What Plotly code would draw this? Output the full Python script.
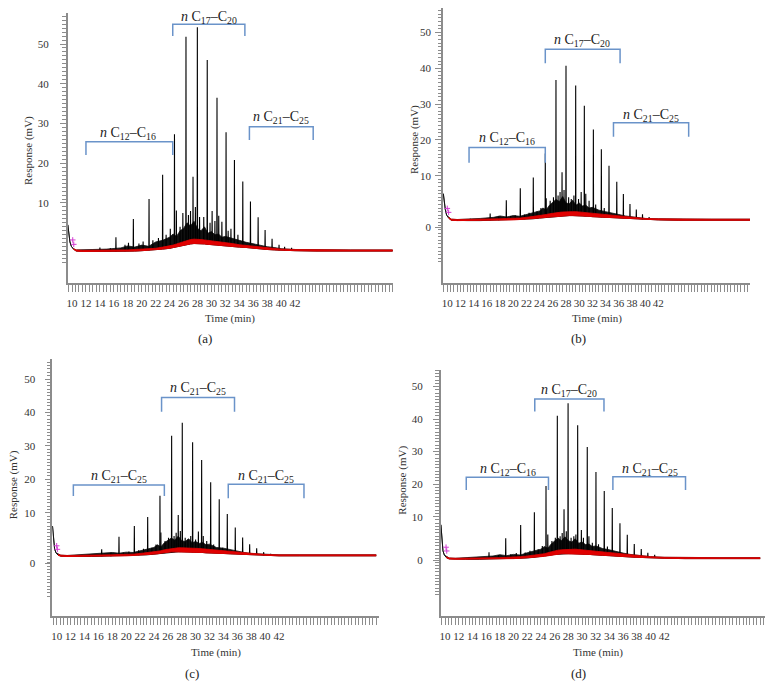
import numpy as np
import plotly.graph_objects as go

# ---------------- data ----------------
# common time grid (min) for baseline / red band / unresolved "grass" envelope
T = [9.4, 9.55, 9.7, 9.9, 10.2, 10.6, 11.5, 13, 15, 17, 18, 19, 20, 21, 22, 23, 24, 24.5, 25, 25.5,
     26, 26.5, 27, 27.5, 28, 28.5, 29, 29.5, 30, 30.5, 31, 31.5, 32, 33, 34, 35, 36, 37, 38, 39,
     40, 42, 45, 50, 56]

# panel (a)
A_BASE = [4.5, 2.0, 0.2, -0.9, -1.6, -2.1, -2.2, -2.2, -2.2, -2.2, -2.1, -2.1, -2.0, -1.9, -1.8, -1.6, -1.4, -1.2, -1.0, -0.8,
          -0.6, -0.4, -0.3, -0.2, -0.2, -0.3, -0.3, -0.4, -0.5, -0.5, -0.6, -0.7, -0.8, -0.9, -1.1, -1.2, -1.4, -1.5, -1.7, -1.8,
          -1.9, -2.0, -2.1, -2.1, -2.1]
A_RED = [4.5, 2.0, 0.2, -0.9, -1.5, -1.8, -1.9, -1.9, -1.9, -1.9, -1.8, -1.7, -1.6, -1.5, -1.4, -1.1, -0.8, -0.6, -0.3, 0.0,
         0.3, 0.6, 0.8, 0.9, 0.9, 0.8, 0.7, 0.6, 0.5, 0.4, 0.3, 0.2, 0.1, -0.2, -0.5, -0.7, -0.9, -1.1, -1.3, -1.5,
         -1.6, -1.7, -1.8, -1.8, -1.8]
A_GRASS = [4.5, 2.0, 0.2, -0.9, -1.5, -1.8, -1.8, -1.7, -1.6, -1.3, -0.8, -1.1, -0.6, -0.9, 0.2, 0.6, 1.4, 2.2, 1.6, 3.0,
           3.6, 5.0, 4.2, 5.4, 3.6, 3.0, 4.0, 2.4, 2.8, 2.0, 2.2, 1.4, 1.6, 1.0, 0.6, 0.1, -0.3, -0.7, -1.0, -1.2,
           -1.5, -1.7, -1.8, -1.8, -1.8]
A_PEAK_T = [14.0, 15.5, 16.3, 17.6, 18.1, 18.8, 19.6, 20.2, 21.05, 21.6, 22.4, 23.0, 23.5, 24.1, 24.7, 24.97, 25.5, 25.9,
            26.35, 26.7, 27.0, 27.36, 27.7, 27.98, 28.3, 28.9, 29.4, 29.8, 30.1, 30.5, 30.8, 31.05, 31.5, 32.1, 32.4,
            32.8, 33.3, 33.8, 34.5, 35.6, 36.7, 37.7, 38.7, 39.7, 40.5, 41.5]
A_PEAK_H = [-1.2, -1.4, 1.4, -0.5, 0.0, 6.0, -0.2, 0.3, 11.0, 0.6, 1.2, 17.1, 2.0, 3.5, 27.3, 8.1, 4.0, 7.5,
            51.8, 7.0, 8.0, 16.6, 9.0, 54.2, 6.5, 6.5, 46.0, 5.0, 8.0, 5.5, 36.5, 6.8, 5.3, 27.8, 3.0,
            3.5, 20.8, 2.0, 15.4, 10.4, 6.4, 3.2, 1.0, -0.5, -1.0, -1.3]
A_CROSS_T = [10.1, 10.25]
A_CROSS_V = [0.7, -0.4]

# panel (b)
B_BASE = [5.0, 2.5, 0.6, -1.0, -1.8, -2.4, -2.5, -2.5, -2.5, -2.4, -2.4, -2.3, -2.3, -2.2, -2.1, -2.0, -1.8, -1.7, -1.6, -1.5,
          -1.4, -1.3, -1.2, -1.2, -1.1, -1.1, -1.1, -1.1, -1.2, -1.2, -1.3, -1.3, -1.4, -1.5, -1.6, -1.7, -1.8, -1.9, -2.0, -2.1,
          -2.2, -2.3, -2.4, -2.4, -2.4]
B_RED = [5.0, 2.5, 0.6, -1.0, -1.6, -2.1, -2.2, -2.2, -2.2, -2.1, -2.0, -1.9, -1.9, -1.8, -1.6, -1.4, -1.2, -1.0, -0.8, -0.6,
         -0.4, -0.3, -0.2, -0.1, 0.0, 0.0, 0.0, 0.0, -0.1, -0.1, -0.2, -0.3, -0.4, -0.6, -0.8, -1.0, -1.2, -1.5, -1.7, -1.8,
         -1.9, -2.0, -2.1, -2.1, -2.1]
B_GRASS = [5.0, 2.5, 0.6, -1.0, -1.6, -2.1, -2.2, -2.1, -1.9, -1.6, -1.2, -1.5, -1.1, -1.3, -0.8, -0.4, 0.2, 1.0, 0.5, 1.8,
           2.6, 3.4, 2.8, 4.2, 2.4, 2.2, 3.2, 1.8, 2.4, 1.6, 1.8, 1.0, 1.2, 0.4, 0.0, -0.5, -0.8, -1.2, -1.5, -1.7,
           -1.9, -2.0, -2.1, -2.1, -2.1]
B_PEAK_T = [13.5, 16.5, 17.8, 18.95, 19.6, 20.3, 21.07, 21.7, 22.4, 23.04, 23.6, 24.2, 24.86, 25.0, 25.6, 26.1,
            26.48, 26.8, 27.1, 27.4, 27.7, 28.0, 28.4, 28.8, 29.2, 29.47, 29.9, 30.3, 30.78, 31.0, 31.5, 32.15,
            32.5, 33.36, 33.8, 34.52, 35.7, 36.7, 37.7, 38.66, 39.6, 40.6]
B_PEAK_H = [-2.0, -0.5, -1.3, 3.2, -1.2, -1.0, 6.5, -0.8, -0.3, 9.5, 0.0, 1.0, 16.2, 3.7, 3.0, 4.0,
            36.7, 4.5, 5.5, 11.0, 6.0, 40.7, 4.0, 3.5, 4.5, 35.2, 3.5, 5.5, 29.5, 5.0, 3.0, 22.9,
            2.0, 17.4, 1.0, 12.8, 8.3, 4.9, 2.1, 0.6, -0.7, -1.5]
B_CROSS_T = [10.0, 10.2]
B_CROSS_V = [0.9, -0.2]

# panel (c)
C_BASE = [6.0, 1.5, -0.8, -2.0, -2.7, -3.0, -3.1, -3.1, -3.1, -3.0, -3.0, -2.9, -2.9, -2.8, -2.7, -2.6, -2.4, -2.3, -2.1, -1.9,
          -1.8, -1.7, -1.7, -1.7, -1.7, -1.7, -1.7, -1.8, -1.8, -1.9, -1.9, -2.0, -2.0, -2.1, -2.2, -2.3, -2.4, -2.5, -2.6, -2.7,
          -2.8, -2.9, -2.9, -2.9, -2.9]
C_RED = [6.0, 1.5, -0.8, -2.0, -2.4, -2.7, -2.8, -2.8, -2.8, -2.7, -2.6, -2.5, -2.5, -2.4, -2.2, -2.0, -1.8, -1.6, -1.4, -1.1,
         -0.9, -0.7, -0.6, -0.5, -0.5, -0.5, -0.5, -0.6, -0.6, -0.7, -0.8, -0.9, -1.0, -1.2, -1.4, -1.6, -1.8, -2.1, -2.3, -2.4,
         -2.5, -2.6, -2.6, -2.6, -2.6]
C_GRASS = [6.0, 1.5, -0.8, -2.0, -2.4, -2.7, -2.8, -2.6, -2.5, -2.2, -1.9, -2.1, -1.8, -1.9, -1.4, -1.0, -0.4, 0.4, -0.2, 1.0,
           1.6, 2.4, 1.8, 3.0, 1.6, 1.4, 2.2, 1.0, 1.4, 0.8, 1.1, 0.4, 0.6, -0.4, -0.6, -1.1, -1.5, -1.9, -2.2, -2.3,
           -2.4, -2.6, -2.6, -2.6, -2.6]
C_PEAK_T = [13.5, 16.48, 17.8, 18.97, 19.6, 20.4, 21.18, 21.8, 22.5, 23.1, 23.7, 24.3, 24.87, 25.0, 25.6, 26.1,
            26.55, 26.9, 27.2, 27.5, 27.8, 28.08, 28.5, 28.9, 29.3, 29.57, 30.0, 30.4, 30.87, 31.1, 31.6, 32.17,
            32.6, 33.4, 33.9, 34.56, 35.71, 36.77, 37.78, 38.79, 39.8, 40.8]
C_PEAK_H = [-2.8, -0.95, -2.0, 2.8, -2.0, -1.6, 6.0, -1.2, -0.8, 8.7, -0.5, 0.5, 15.1, 4.1, 1.5, 2.5,
            33.0, 3.0, 4.0, 9.3, 4.5, 36.9, 2.5, 2.0, 3.0, 31.1, 2.0, 4.4, 25.8, 3.0, 1.5, 19.1,
            0.5, 14.0, -0.5, 9.6, 5.6, 2.6, 0.6, -0.65, -1.8, -2.3]
C_CROSS_T = [10.0, 10.1]
C_CROSS_V = [0.1, -0.95]

# panel (d)
D_BASE = [7.5, 2.0, -0.5, -1.8, -2.6, -3.0, -3.1, -3.1, -3.1, -3.0, -3.0, -2.9, -2.9, -2.8, -2.7, -2.5, -2.3, -2.2, -2.0, -1.8,
          -1.6, -1.5, -1.4, -1.4, -1.4, -1.4, -1.4, -1.5, -1.5, -1.6, -1.6, -1.7, -1.7, -1.9, -2.0, -2.2, -2.3, -2.4, -2.5, -2.6,
          -2.7, -2.8, -2.9, -2.9, -2.9]
D_RED = [7.5, 2.0, -0.5, -1.8, -2.3, -2.7, -2.8, -2.8, -2.8, -2.7, -2.6, -2.5, -2.5, -2.3, -2.1, -1.9, -1.6, -1.4, -1.1, -0.8,
         -0.5, -0.3, -0.2, -0.1, 0.0, 0.0, 0.0, -0.1, -0.2, -0.3, -0.4, -0.5, -0.6, -0.8, -1.1, -1.4, -1.6, -1.8, -2.0, -2.2,
         -2.3, -2.5, -2.6, -2.6, -2.6]
D_GRASS = [7.5, 2.0, -0.5, -1.8, -2.3, -2.7, -2.8, -2.6, -2.5, -2.1, -1.7, -2.0, -1.6, -1.8, -1.1, -0.6, 0.0, 0.8, 0.3, 1.6,
           2.6, 3.4, 2.6, 3.8, 2.6, 2.2, 3.2, 1.8, 2.2, 1.4, 1.6, 0.8, 1.0, 0.2, -0.2, -0.8, -1.2, -1.6, -1.9, -2.1,
           -2.3, -2.5, -2.6, -2.6, -2.6]
D_PEAK_T = [13.5, 16.42, 17.8, 18.86, 19.6, 20.4, 21.04, 21.7, 22.4, 23.04, 23.6, 24.2, 24.74, 25.0, 25.6, 26.1,
            26.39, 26.8, 27.1, 27.37, 27.7, 27.96, 28.4, 28.8, 29.1, 29.36, 29.9, 30.2, 30.76, 31.0, 31.5, 32.03,
            32.4, 33.24, 33.7, 34.41, 35.53, 36.6, 37.62, 38.64, 39.6, 40.6]
D_PEAK_H = [-2.6, -0.95, -1.8, 3.35, -1.6, -1.2, 7.45, -1.0, -0.5, 11.35, 0.0, 1.0, 19.4, 4.5, 2.5, 3.5,
            41.0, 4.0, 5.0, 12.3, 5.5, 44.9, 3.5, 4.0, 4.5, 38.1, 5.9, 3.5, 31.4, 4.0, 2.0, 23.7,
            1.5, 17.9, 0.8, 12.7, 8.0, 4.4, 1.6, 0.06, -1.1, -1.7]
D_CROSS_T = [10.15, 10.25]
D_CROSS_V = [0.6, -0.55]

X_TICKS = [10, 12, 14, 16, 18, 20, 22, 24, 26, 28, 30, 32, 34, 36, 38, 40, 42]
LBL_12_16 = "<i>n</i> C<sub>12</sub>–C<sub>16</sub>"
LBL_17_20 = "<i>n</i> C<sub>17</sub>–C<sub>20</sub>"
LBL_21_25 = "<i>n</i> C<sub>21</sub>–C<sub>25</sub>"

# ---------------- panel layout ----------------
W, H = 773, 700
SERIF = "Liberation Serif, Times New Roman, serif"
AXC = "#8c8c8c"
RED = "#e00000"
BLUE = "#6a93c9"

panels = [
    dict(sfx="", base=A_BASE, red=A_RED, grass=A_GRASS, pt=A_PEAK_T, ph=A_PEAK_H, ct=A_CROSS_T, cv=A_CROSS_V,
         px=(67.7, 393), py=(13, 283), xr=(9.38, 56.05), yr=(-10.13, 57.8), ystand=9,
         yt=[10, 20, 30, 40, 50], ytt=["10", "20", "30", "40", "50"], ymin=(-5, 58),
         brackets=[(12.0, 24.45, 25.4, 22.1, 18.0, 27.4, LBL_12_16),
                   (24.45, 34.8, 55.0, 52.0, 29.65, 56.7, LBL_17_20),
                   (35.45, 44.6, 29.2, 25.85, 40.0, 31.5, LBL_21_25)],
         ylab=(28, 150), xlab=(230, 318), cap=("(a)", 205, 339)),
    dict(sfx="2", base=B_BASE, red=B_RED, grass=B_GRASS, pt=B_PEAK_T, ph=B_PEAK_H, ct=B_CROSS_T, cv=B_CROSS_V,
         px=(443, 750), py=(8.3, 283), xr=(9.35, 55.9), yr=(-19.9, 56.7), ystand=2,
         yt=[-4.3, 10, 20, 30, 40, 50], ytt=["0", "10", "20", "30", "40", "50"], ymin=(-14, 57),
         brackets=[(13.3, 24.86, 17.9, 13.6, 19.1, 20.4, LBL_12_16),
                   (24.86, 36.2, 45.3, 41.4, 30.5, 47.6, LBL_17_20),
                   (35.2, 46.6, 24.8, 20.9, 40.9, 26.8, LBL_21_25)],
         ylab=(415, 140), xlab=(597, 318), cap=("(b)", 578, 339)),
    dict(sfx="3", base=C_BASE, red=C_RED, grass=C_GRASS, pt=C_PEAK_T, ph=C_PEAK_H, ct=C_CROSS_T, cv=C_CROSS_V,
         px=(52.3, 379), py=(359.3, 616), xr=(9.37, 56.4), yr=(-20.9, 55.9), ystand=7,
         yt=[-5.1, 10, 20, 30, 40, 50], ytt=["0", "10", "20", "30", "40", "50"], ymin=(-15, 56),
         brackets=[(12.4, 25.5, 18.3, 15.0, 19.0, 20.9, LBL_21_25),
                   (25.1, 35.6, 44.5, 40.2, 30.3, 47.2, LBL_21_25),
                   (34.7, 45.6, 18.5, 14.3, 40.1, 20.9, LBL_21_25)],
         ylab=(13.3, 485), xlab=(216, 652), cap=("(c)", 192, 673)),
    dict(sfx="4", base=D_BASE, red=D_RED, grass=D_GRASS, pt=D_PEAK_T, ph=D_PEAK_H, ct=D_CROSS_T, cv=D_CROSS_V,
         px=(440.7, 765), py=(370, 616), xr=(9.37, 56.7), yr=(-20.55, 55.1), ystand=8,
         yt=[-3.5, 10, 20, 30, 40, 50], ytt=["0", "10", "20", "30", "40", "50"], ymin=(-14, 56),
         brackets=[(13.1, 25.1, 22.1, 18.2, 19.15, 24.6, LBL_12_16),
                   (23.1, 33.2, 46.2, 42.3, 28.1, 48.7, LBL_17_20),
                   (34.5, 45.1, 22.3, 18.2, 39.9, 24.6, LBL_21_25)],
         ylab=(401.7, 480), xlab=(598, 652), cap=("(d)", 578, 673)),
]

fig = go.Figure()
shapes, annotations = [], []
layout_axes = {}

for p in panels:
    xa, ya = "x" + p["sfx"], "y" + p["sfx"]
    common = dict(xaxis=xa, yaxis=ya, showlegend=False, hoverinfo="skip")
    base = np.array(p["base"], dtype=float)

    # unresolved black hump ("grass")
    fig.add_trace(go.Scatter(x=T, y=p["base"], mode="lines", line=dict(color="#111", width=1), **common))
    fig.add_trace(go.Scatter(x=T, y=p["grass"], mode="lines", line=dict(color="#111", width=0.8),
                             fill="tonexty", fillcolor="#111", **common))
    # resolved peaks
    xs, ys = [], []
    for t, h in zip(p["pt"], p["ph"]):
        b = float(np.interp(t, T, base))
        xs += [t - 0.03, t, t + 0.03, None]
        ys += [b, h, b, None]
    fig.add_trace(go.Scatter(x=xs, y=ys, mode="lines", line=dict(color="#000", width=1.1), **common))
    # red band (from 10.2 min on)
    idx = [i for i, t in enumerate(T) if t >= 10.2]
    tr = [T[i] for i in idx]
    fig.add_trace(go.Scatter(x=tr, y=[p["base"][i] for i in idx], mode="lines",
                             line=dict(color=RED, width=1), **common))
    fig.add_trace(go.Scatter(x=tr, y=[p["red"][i] for i in idx], mode="lines",
                             line=dict(color=RED, width=0.8), fill="tonexty", fillcolor=RED, **common))
    # magenta markers
    fig.add_trace(go.Scatter(x=p["ct"], y=p["cv"], mode="markers",
                             marker=dict(symbol="cross-thin", size=4, line=dict(color="#d23cd2", width=1)),
                             **common))

    x0, x1 = p["px"]
    y0, y1 = p["py"]
    xkey = "xaxis" + p["sfx"]
    ykey = "yaxis" + p["sfx"]
    layout_axes[xkey] = dict(
        domain=[x0 / W, x1 / W], range=list(p["xr"]), anchor=ya, showline=True, linecolor=AXC, linewidth=1.5,
        ticks="outside", ticklen=7, tickcolor=AXC, tickwidth=1, tickmode="array",
        tickvals=X_TICKS, ticktext=[str(v) for v in X_TICKS], tickangle=0,
        tickfont=dict(family=SERIF, size=11, color="#333"), showgrid=False, zeroline=False,
        minor=dict(tickmode="linear", tick0=0, dtick=0.5, ticklen=7, tickcolor=AXC, tickwidth=1, showgrid=False),
        ticklabelstandoff=2,
    )
    layout_axes[ykey] = dict(
        domain=[1 - y1 / H, 1 - y0 / H], range=list(p["yr"]), anchor=xa, showline=True, linecolor=AXC,
        linewidth=1.5, ticks="outside", ticklen=6, tickcolor=AXC, tickwidth=1, tickmode="array",
        tickvals=p["yt"], ticktext=p["ytt"], tickfont=dict(family=SERIF, size=11, color="#333"),
        showgrid=False, zeroline=False, ticklabelstandoff=int(p["ystand"]),
        minor=dict(tickmode="array", tickvals=list(range(p["ymin"][0], p["ymin"][1])), ticklen=3.5,
                   tickcolor=AXC, tickwidth=1, showgrid=False),
    )

    for (t1, t2, top, bot, lt, lv, txt) in p["brackets"]:
        shapes.append(dict(type="path", xref=xa, yref=ya,
                           path=f"M {t1},{bot} L {t1},{top} L {t2},{top} L {t2},{bot}",
                           line=dict(color=BLUE, width=1.5)))
        annotations.append(dict(x=lt, y=lv, xref=xa, yref=ya, text=txt, showarrow=False,
                                xanchor="center", yanchor="middle",
                                font=dict(family=SERIF, size=14, color="#222")))

    lx, ly = p["ylab"]
    annotations.append(dict(x=lx / W, y=1 - ly / H, xref="paper", yref="paper", text="Response (mV)",
                            textangle=-90, showarrow=False, xanchor="center", yanchor="middle",
                            font=dict(family=SERIF, size=11, color="#333")))
    tx, ty = p["xlab"]
    annotations.append(dict(x=tx / W, y=1 - ty / H, xref="paper", yref="paper", text="Time (min)",
                            showarrow=False, xanchor="center", yanchor="middle",
                            font=dict(family=SERIF, size=11, color="#333")))
    ct, cx, cy = p["cap"]
    annotations.append(dict(x=cx / W, y=1 - cy / H, xref="paper", yref="paper", text=ct,
                            showarrow=False, xanchor="center", yanchor="middle",
                            font=dict(family=SERIF, size=13, color="#222")))

fig.update_layout(
    width=W, height=H, margin=dict(l=0, r=0, t=0, b=0), paper_bgcolor="white", plot_bgcolor="white",
    showlegend=False, shapes=shapes, annotations=annotations, **layout_axes,
)

fig.write_html("out.html", config={"displayModeBar": False},
               post_script="document.body.style.margin='0';document.body.style.overflow='hidden';")
